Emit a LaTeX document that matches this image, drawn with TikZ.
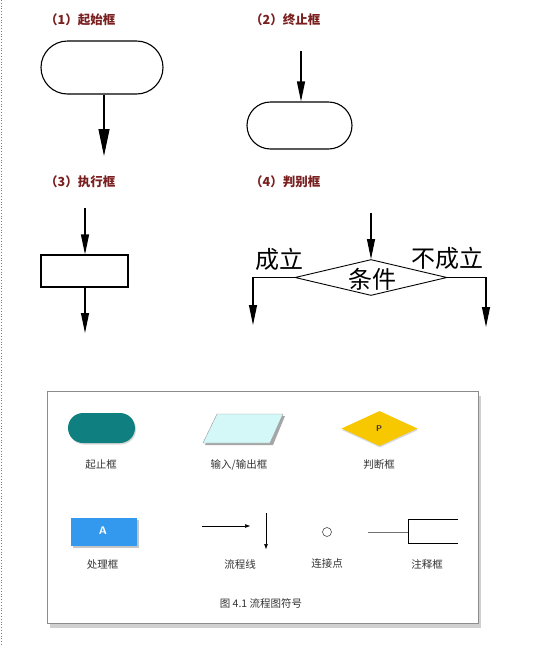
\documentclass[tikz,border=0pt]{standalone}
\usepackage{fontspec}
\newfontfamily\cjk{Noto Sans CJK SC}
\usetikzlibrary{arrows.meta,shapes.geometric,shapes.misc,shadows}
\definecolor{labred}{HTML}{7A1F1F}
\definecolor{teal1}{HTML}{0F7F80}
\definecolor{cyan1}{HTML}{D4F8F8}
\definecolor{yel1}{HTML}{F7C800}
\definecolor{blue1}{HTML}{3399EE}
\begin{document}
\begin{tikzpicture}[x=1pt,y=-1pt,
  title/.style={font=\cjk\bfseries\fontsize{12.5}{14}\selectfont, text=labred, inner sep=0},
  big/.style={font=\cjk\fontsize{24}{26}\selectfont, inner sep=0},
  small/.style={font=\cjk\fontsize{10.5}{12}\selectfont, text=black!80, inner sep=0},
  stadium/.style={draw, line width=1.1pt, rounded rectangle, inner sep=0},
  arr/.style={draw, line width=1.1pt, -{Triangle[length=20pt,width=8pt]}},
  thinarr/.style={draw, line width=0.6pt, -{Triangle[length=5pt,width=3.5pt]}}
]
\useasboundingbox (0,0) rectangle (558,646);
\fill[white] (0,0) rectangle (558,646);
\draw[gray, dotted, line width=0.8pt] (1.5,0) -- (1.5,646);

% (1)
\node[title, anchor=west] (t1) at (45,20) {（1）起始框};
\node[stadium, minimum width=122, minimum height=53] (start) at (102,67.5) {};
\coordinate (e1) at (104,156);
\draw[line width=1.1pt, -{Triangle[length=27pt,width=11pt]}] (start.south -| e1) -- (e1);

% (2)
\node[title, anchor=west] (t2) at (250,20) {（2）终止框};
\node[stadium, minimum width=105, minimum height=47] (stop) at (299.5,125.5) {};
\coordinate (s2) at (301,51);
\draw[arr] (s2) -- (stop.north -| s2);

% (3)
\node[title, anchor=west] (t3) at (45,182) {（3）执行框};
\node[draw, line width=1.1pt, minimum width=87, minimum height=32, inner sep=0] (proc) at (84.5,271) {};
\coordinate (s3) at (85,208);
\coordinate (e3) at (85,333);
\draw[arr] (s3) -- (proc.north -| s3);
\draw[arr] (proc.south -| e3) -- (e3);

% (4)
\node[title, anchor=west] (t4) at (250,182) {（4）判别框};
\node[draw, line width=0.9pt, diamond, minimum width=152, minimum height=36, inner sep=0, aspect=4.2] (dia) at (371,277.5) {};
\node[big] (cond) at (372,279) {条件};
\node[big] (yes) at (279,259) {成立};
\node[big] (no) at (447,258) {不成立};
\coordinate (s4) at (371,213);
\coordinate (eL) at (253,325);
\coordinate (eR) at (486,327);
\draw[arr] (s4) -- (dia.north);
\draw[arr] (dia.west) -| (eL);
\draw[arr] (dia.east) -| (eR);

% legend panel
\node[draw=black!45, fill=white, line width=0.6pt, minimum width=431, minimum height=232, inner sep=0,
  drop shadow={shadow xshift=3pt, shadow yshift=-5pt, opacity=0.3, fill=black!60}] (panel) at (262.5,507) {};

\node[fill=teal1, rounded rectangle, minimum width=67, minimum height=30, inner sep=0,
  drop shadow={shadow xshift=1pt, shadow yshift=-1.5pt, opacity=0.3}] (term) at (101.5,428) {};
\node[small] (lterm) at (101,465) {起止框};

\fill[black!35] (219,416) -- (285,416) -- (273,445) -- (205,445) -- cycle;
\draw[fill=cyan1, draw=black!40, line width=0.4pt] (217,414) -- (283,414) -- (270,443) -- (203,443) -- cycle;
\node[small] (lio) at (239,465) {输入/输出框};

\node[fill=yel1, diamond, minimum width=76, minimum height=35, aspect=2.2, inner sep=0,
  drop shadow={shadow xshift=0.5pt, shadow yshift=-1.5pt, opacity=0.3}] (dec) at (379.5,428.5) {};
\node[font=\sffamily\bfseries\fontsize{8.5}{9}\selectfont, text=black!80, inner sep=0] (p) at (379,429) {P};
\node[small] (ldec) at (379,465) {判断框};

\node[fill=blue1, minimum width=66, minimum height=28, inner sep=0,
  drop shadow={shadow xshift=1.5pt, shadow yshift=-1.5pt, opacity=0.45}] (pbox) at (104,532) {};
\node[font=\sffamily\bfseries\fontsize{11}{12}\selectfont, text=white, inner sep=0] (a) at (103,531) {A};
\node[small] (lpbox) at (102.5,564) {处理框};

\coordinate (h1) at (202,526);
\coordinate (h2) at (250,526);
\coordinate (v1) at (266,513);
\coordinate (v2) at (266,549);
\draw[thinarr] (h1) -- (h2);
\draw[thinarr] (v1) -- (v2);
\node[small] (lflow) at (240,564) {流程线};

\node[draw=black!70, circle, line width=0.6pt, minimum size=9, inner sep=0] (conn) at (327,532) {};
\node[small] (lconn) at (327,564) {连接点};

\coordinate (n0) at (368,532);
\coordinate (nb) at (408,532);
\coordinate (nt) at (458,519);
\coordinate (nbot) at (458,543);
\draw[black!55, line width=0.6pt] (n0) -- (nb);
\draw[line width=1pt] (nt) -- (nt -| nb) -- (nbot -| nb) -- (nbot);
\node[small] (lnote) at (427,564) {注释框};

\node[small] (cap) at (261,603) {图 4.1 流程图符号};
\end{tikzpicture}
\end{document}
